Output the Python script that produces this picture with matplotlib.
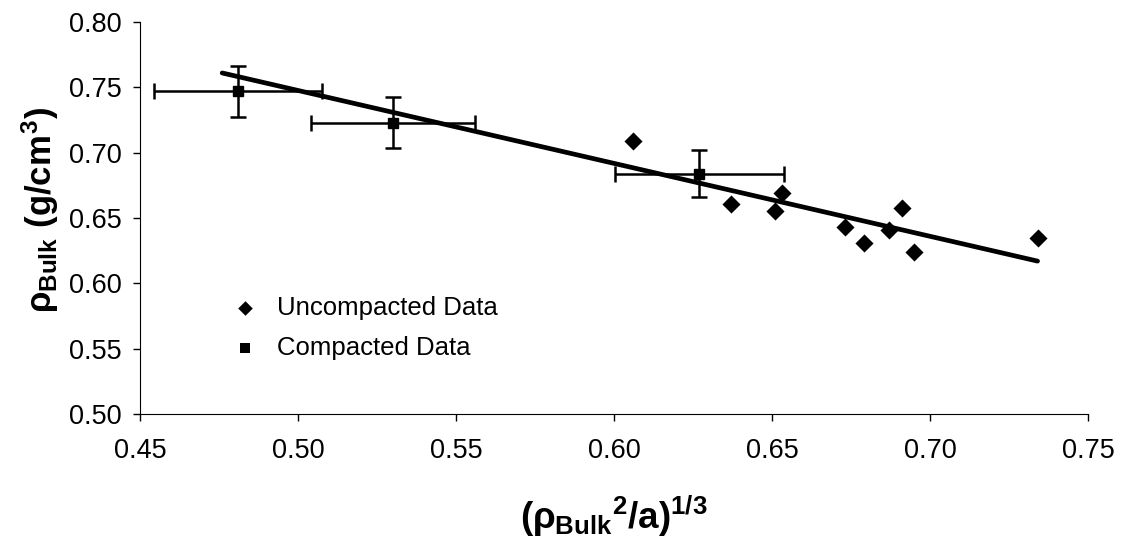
import matplotlib
matplotlib.use("Agg")
import matplotlib.pyplot as plt
import numpy as np

plt.rcParams['font.family'] = ['Liberation Sans', 'DejaVu Sans']
plt.rcParams['mathtext.fontset'] = 'custom'
plt.rcParams['mathtext.rm'] = 'Liberation Sans:bold'
plt.rcParams['mathtext.it'] = 'Liberation Sans:bold'
plt.rcParams['mathtext.bf'] = 'Liberation Sans:bold'
plt.rcParams['mathtext.sf'] = 'Liberation Sans:bold'

# Uncompacted data
unc_x = [0.606, 0.637, 0.651, 0.653, 0.673, 0.679, 0.687, 0.691, 0.695, 0.734]
unc_y = [0.709, 0.661, 0.655, 0.669, 0.643, 0.631, 0.641, 0.658, 0.624, 0.635]

# Compacted data with error bars
cmp_x = [0.481, 0.530, 0.627]
cmp_y = [0.747, 0.723, 0.684]
cmp_xerr = [0.0266, 0.026, 0.0267]
cmp_yerr = [0.0196, 0.0195, 0.018]

# Trend line endpoints
fit_x = [0.476, 0.734]
fit_y = [0.761, 0.617]

xticks = [0.45, 0.50, 0.55, 0.60, 0.65, 0.70, 0.75]
yticks = [0.50, 0.55, 0.60, 0.65, 0.70, 0.75, 0.80]

fig = plt.figure(figsize=(11.22, 5.42), dpi=100)
ax = fig.add_axes([0.1248, 0.2362, 0.845, 0.7232])

ax.plot(fit_x, fit_y, color='black', lw=3.4, solid_capstyle='round', zorder=2)
ax.errorbar(cmp_x, cmp_y, xerr=cmp_xerr, yerr=cmp_yerr, fmt='s', color='black',
            ms=7.5, ecolor='black', elinewidth=1.8, capsize=6, capthick=1.8, zorder=3)
ax.scatter(unc_x, unc_y, marker='D', s=85, color='black', linewidths=0, zorder=3)

# legend (manual, no frame)
ax.scatter([0.4832], [0.5811], marker='D', s=55, color='black', linewidths=0)
ax.text(0.4934, 0.5811, 'Uncompacted Data', fontsize=18.5, va='center', ha='left')
ax.scatter([0.4832], [0.5505], marker='s', s=55, color='black', linewidths=0)
ax.text(0.4934, 0.5505, 'Compacted Data', fontsize=18.5, va='center', ha='left')

ax.set_xlim(0.45, 0.75)
ax.set_ylim(0.50, 0.80)
ax.set_xticks(xticks)
ax.set_yticks(yticks)
ax.set_xticklabels([f"{t:.2f}" for t in xticks], fontsize=19.5)
ax.set_yticklabels([f"{t:.2f}" for t in yticks], fontsize=19.5)
ax.spines['top'].set_visible(False)
ax.spines['right'].set_visible(False)
ax.tick_params(direction='out', length=5, width=1, pad=8)
ax.tick_params(axis='x', pad=12)

ax.set_xlabel(r'$(\rho_{\mathrm{Bulk}}{}^{2}/a)^{1/3}$', fontsize=26.5, labelpad=22)
ax.set_ylabel(r'$\rho_{\mathrm{Bulk}}\ (g/cm^{3})$', fontsize=25, labelpad=7)
ax.yaxis.set_label_coords(-0.083, 0.52)

fig.savefig('out.png', dpi=100)
